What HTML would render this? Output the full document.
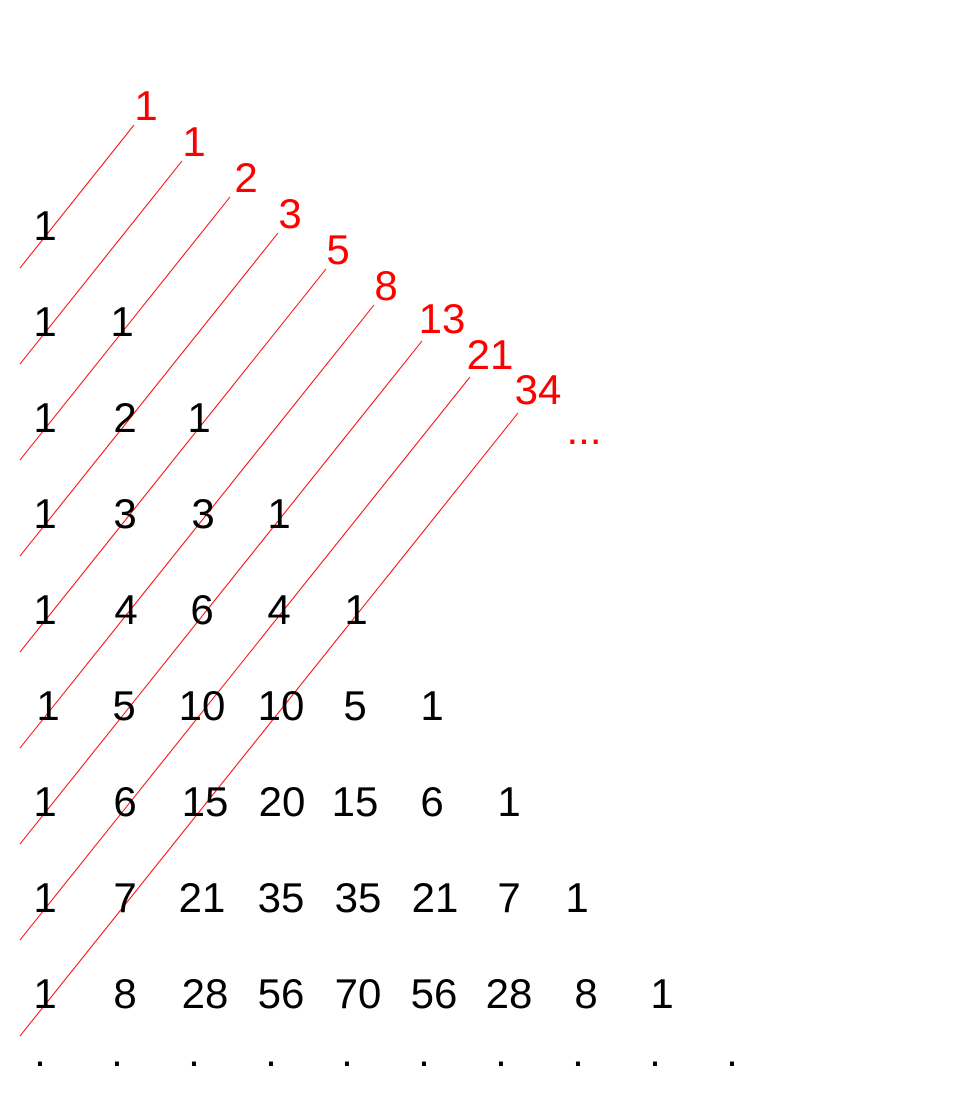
<!DOCTYPE html>
<html><head><meta charset="utf-8"><style>
html,body{margin:0;padding:0;background:#fff}
svg{display:block}
text{font-family:"Liberation Sans",sans-serif;font-size:42px;text-anchor:middle}
.r{fill:#ff0000}
</style></head><body>
<svg width="960" height="1104" xmlns="http://www.w3.org/2000/svg">
<g stroke="#ff0000" stroke-width="1">
<line x1="20" y1="268" x2="134" y2="125"/>
<line x1="20" y1="364" x2="182" y2="161"/>
<line x1="20" y1="460" x2="230" y2="197"/>
<line x1="20" y1="556" x2="278" y2="233"/>
<line x1="20" y1="652" x2="326" y2="269"/>
<line x1="20" y1="748" x2="374" y2="305"/>
<line x1="20" y1="844" x2="422" y2="341"/>
<line x1="20" y1="940" x2="470" y2="377"/>
<line x1="20" y1="1036" x2="518" y2="413"/>
</g>
<g class="r">
<text x="146" y="120">1</text>
<text x="194" y="156">1</text>
<text x="246" y="192">2</text>
<text x="290" y="228">3</text>
<text x="338" y="264">5</text>
<text x="386" y="300">8</text>
<text x="442" y="333">13</text>
<text x="490" y="369">21</text>
<text x="538" y="404">34</text>
<text x="584" y="444">...</text>
</g>
<g>
<text x="45" y="240">1</text>
<text x="45" y="336">1</text><text x="122" y="336">1</text>
<text x="45" y="432">1</text><text x="125" y="432">2</text><text x="199" y="432">1</text>
<text x="45" y="528">1</text><text x="125" y="528">3</text><text x="203" y="528">3</text><text x="279" y="528">1</text>
<text x="45" y="624">1</text><text x="126" y="624">4</text><text x="202" y="624">6</text><text x="279" y="624">4</text><text x="356" y="624">1</text>
<text x="48" y="720">1</text><text x="124" y="720">5</text><text x="202" y="720">10</text><text x="281" y="720">10</text><text x="355" y="720">5</text><text x="432" y="720">1</text>
<text x="45" y="816">1</text><text x="125" y="816">6</text><text x="205" y="816">15</text><text x="282" y="816">20</text><text x="355" y="816">15</text><text x="432" y="816">6</text><text x="509" y="816">1</text>
<text x="45" y="912">1</text><text x="125" y="912">7</text><text x="202" y="912">21</text><text x="281" y="912">35</text><text x="358" y="912">35</text><text x="435" y="912">21</text><text x="509" y="912">7</text><text x="577" y="912">1</text>
<text x="45" y="1008">1</text><text x="125" y="1008">8</text><text x="205" y="1008">28</text><text x="281" y="1008">56</text><text x="358" y="1008">70</text><text x="434" y="1008">56</text><text x="509" y="1008">28</text><text x="586" y="1008">8</text><text x="662" y="1008">1</text>
<text x="40" y="1066">.</text><text x="117" y="1066">.</text><text x="194" y="1066">.</text><text x="271" y="1066">.</text><text x="347" y="1066">.</text><text x="424" y="1066">.</text><text x="501" y="1066">.</text><text x="578" y="1066">.</text><text x="655" y="1066">.</text><text x="732" y="1066">.</text>
</g>
</svg>
</body></html>
